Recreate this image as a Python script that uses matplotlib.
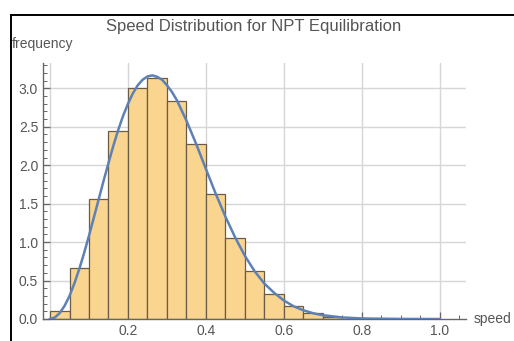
import matplotlib
matplotlib.use("Agg")
import matplotlib.pyplot as plt
from matplotlib.lines import Line2D
from matplotlib.ticker import MultipleLocator

plt.rcParams['font.family'] = ['Liberation Sans', 'DejaVu Sans']

# histogram bins (width 0.05) and heights
bin_left = [0.00, 0.05, 0.10, 0.15, 0.20, 0.25, 0.30, 0.35,
            0.40, 0.45, 0.50, 0.55, 0.60, 0.65, 0.70]
bin_height = [0.10, 0.66, 1.56, 2.44, 3.01, 3.13, 2.84, 2.27,
              1.63, 1.06, 0.625, 0.33, 0.165, 0.074, 0.025]
bin_width = 0.05

curve_x = [0.0, 0.0125, 0.025, 0.0375, 0.05, 0.0625, 0.075, 0.0875,
           0.1, 0.1125, 0.125, 0.1375, 0.15, 0.1625, 0.175, 0.1875,
           0.2, 0.2125, 0.225, 0.2375, 0.25, 0.2625, 0.275, 0.2875,
           0.3, 0.3125, 0.325, 0.35, 0.375, 0.4, 0.425, 0.45, 0.475,
           0.5, 0.525, 0.55, 0.575, 0.6, 0.625, 0.65, 0.675, 0.7,
           0.75, 0.8, 0.9, 1.0]
curve_y = [0.0, 0.02, 0.078, 0.173, 0.30, 0.463, 0.65, 0.859,
           1.085, 1.321, 1.56, 1.80, 2.03, 2.255, 2.46, 2.644,
           2.80, 2.935, 3.04, 3.112, 3.155, 3.169, 3.15, 3.112,
           3.04, 2.955, 2.85, 2.58, 2.275, 1.95, 1.63, 1.33, 1.06,
           0.82, 0.62, 0.46, 0.34, 0.24, 0.165, 0.113, 0.075, 0.049,
           0.02, 0.007, 0.001, 0.0]

fig = plt.figure(figsize=(5.14, 3.41), dpi=100, facecolor='w')
ax = fig.add_axes([43/514, 22/341, 423/514, 256/341])

ax.bar(bin_left, bin_height, width=bin_width, align='edge',
       color='#fad58f', edgecolor='#6b5c45', linewidth=0.9, zorder=2)
ax.plot(curve_x, curve_y, color='#5e81b5', linewidth=1.8, zorder=3)

ax.set_xlim(-0.018, 1.067)
ax.set_ylim(0, 3.33)

ax.xaxis.set_major_locator(MultipleLocator(0.2))
ax.xaxis.set_minor_locator(MultipleLocator(0.05))
ax.yaxis.set_major_locator(MultipleLocator(0.5))
ax.yaxis.set_minor_locator(MultipleLocator(0.1))
ax.set_xticks([0.2, 0.4, 0.6, 0.8, 1.0])
ax.set_xticklabels(["0.2", "0.4", "0.6", "0.8", "1.0"])

for s in ['top', 'right']:
    ax.spines[s].set_visible(False)
for s in ['left', 'bottom']:
    ax.spines[s].set_color('#666666')
    ax.spines[s].set_linewidth(1.0)

ax.tick_params(which='both', direction='in', color='#666666',
               labelcolor='#555555', labelsize=10)
ax.tick_params(which='major', length=5, width=0.9)
ax.tick_params(which='minor', length=3, width=0.7)

# grid lines
for gx in [0.0, 0.2, 0.4, 0.6, 0.8, 1.0]:
    ax.axvline(gx, color='#d6d6d6', linewidth=1.0, zorder=0)
for gy in [0.5, 1.0, 1.5, 2.0, 2.5, 3.0]:
    ax.axhline(gy, color='#d6d6d6', linewidth=1.0, zorder=0)

fig.text(254/514, 1 - 26/341, "Speed Distribution for NPT Equilibration",
         ha='center', va='center', fontsize=12, color='#555555')
fig.text(12/514, 1 - 44/341, "frequency", ha='left', va='center',
         fontsize=10, color='#555555')
fig.text(511/514, 1 - 319/341, "speed", ha='right', va='center',
         fontsize=10, color='#555555')

# frame lines of the notebook cell
fig.add_artist(Line2D([11/514, 1.0], [1 - 15/341, 1 - 15/341],
                      color='black', linewidth=1.4))
fig.add_artist(Line2D([11/514, 11/514], [0.0, 1 - 15/341],
                      color='black', linewidth=1.4))

fig.savefig("out.png", dpi=100)
